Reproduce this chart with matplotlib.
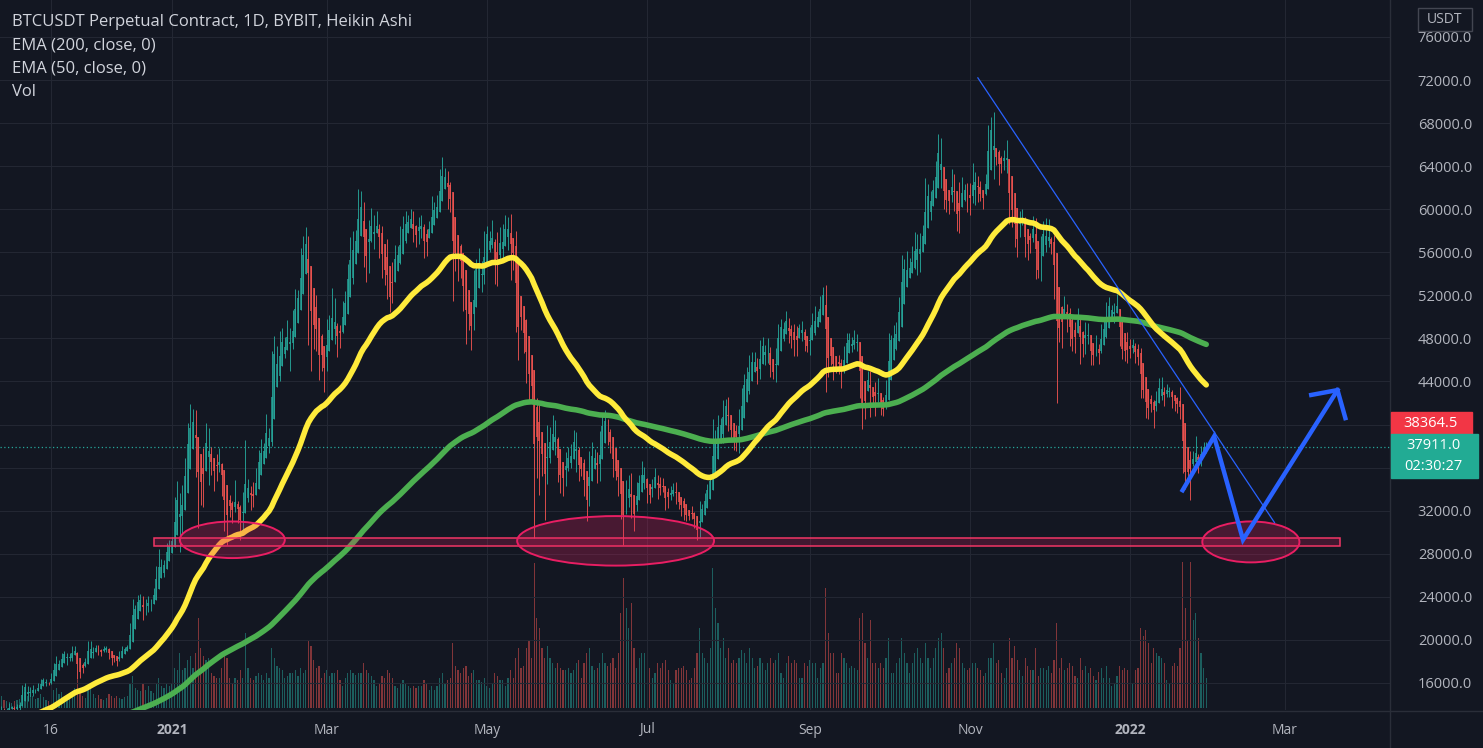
import numpy as np
import pandas as pd
import matplotlib.pyplot as plt
from matplotlib.patches import Ellipse, Rectangle
from matplotlib.lines import Line2D

# daily candles from 2020-10-27, prices in thousand USDT, one row per month
start_date = "2020-10-27"
first_open = 13.03

close = [
    13.64, 13.27, 13.46, 13.56, 13.80,
    13.76, 13.55, 14.02, 14.15, 15.59, 15.58, 14.83, 15.48, 15.33, 15.30, 15.70, 16.28, 16.32, 16.07, 15.96, 16.73, 17.65, 17.80, 17.82, 18.66, 18.70, 18.42, 18.37, 19.16, 18.74, 17.15, 17.14, 17.72, 18.18, 19.70,
    18.79, 19.21, 19.45, 18.70, 19.15, 19.36, 19.17, 18.32, 18.55, 18.26, 18.04, 18.80, 19.14, 19.25, 19.44, 21.37, 22.80, 23.12, 23.86, 23.48, 22.75, 23.83, 23.24, 23.73, 24.71, 26.44, 26.28, 27.08, 27.39, 28.87, 28.95,
    29.41, 32.20, 33.00, 31.99, 33.95, 36.77, 39.43, 40.67, 40.24, 38.24, 35.54, 34.01, 37.39, 39.14, 36.77, 36.18, 35.79, 36.63, 35.89, 35.47, 30.85, 32.95, 32.08, 32.26, 32.25, 32.47, 30.37, 33.37, 34.25, 34.26, 33.11,
    33.52, 35.48, 37.62, 36.94, 38.29, 39.26, 38.87, 46.45, 46.50, 44.84, 48.00, 47.41, 47.23, 48.59, 47.91, 49.13, 52.12, 51.55, 55.89, 55.84, 57.41, 54.09, 48.89, 49.68, 47.07, 46.28, 46.11, 45.14,
    49.59, 48.44, 50.35, 48.37, 48.75, 48.88, 50.97, 52.38, 54.88, 55.86, 57.80, 57.22, 61.19, 58.97, 55.60, 56.90, 58.91, 57.65, 58.03, 58.10, 57.35, 54.08, 54.34, 52.30, 51.30, 55.03, 55.85, 55.78, 57.63, 58.75, 58.92,
    58.74, 58.98, 57.06, 58.20, 59.13, 57.99, 56.00, 58.09, 58.09, 59.77, 60.20, 59.87, 63.58, 62.96, 63.22, 61.40, 60.01, 56.15, 55.72, 56.47, 53.81, 51.70, 51.15, 50.05, 49.00, 54.02, 55.03, 54.85, 53.56, 57.69,
    57.80, 56.58, 57.15, 53.24, 57.47, 56.43, 57.38, 58.93, 58.28, 55.86, 56.70, 49.15, 49.72, 49.88, 46.76, 46.45, 43.54, 42.91, 37.00, 40.78, 37.30, 37.54, 34.77, 38.87, 38.40, 39.29, 38.53, 35.66, 34.66, 35.68, 37.34,
    36.69, 37.57, 39.19, 36.87, 35.52, 35.80, 33.57, 33.37, 37.39, 36.68, 37.33, 35.55, 39.10, 40.52, 40.14, 38.35, 38.09, 35.82, 35.48, 35.60, 31.68, 32.51, 33.68, 34.66, 31.59, 32.23, 34.70, 34.49, 35.91, 35.04,
    33.57, 33.80, 34.69, 35.29, 33.69, 34.23, 33.86, 32.88, 33.81, 33.52, 34.26, 33.09, 32.73, 32.82, 31.87, 31.38, 31.52, 31.78, 30.84, 29.79, 32.13, 32.29, 33.58, 34.28, 35.43, 37.26, 39.46, 40.00, 40.03, 42.21, 41.46,
    39.85, 39.15, 38.21, 39.75, 40.87, 42.84, 44.61, 43.82, 46.29, 45.59, 45.56, 44.40, 47.83, 47.10, 47.02, 45.94, 44.69, 44.71, 46.76, 49.34, 48.87, 49.29, 49.55, 47.73, 48.95, 46.86, 49.09, 48.91, 48.81, 46.99, 47.13,
    48.82, 49.25, 49.94, 49.92, 51.76, 52.66, 46.86, 46.05, 46.40, 44.85, 45.17, 46.03, 44.96, 47.11, 48.12, 47.74, 47.30, 48.31, 47.26, 42.99, 40.72, 43.57, 44.90, 42.84, 42.72, 43.21, 42.17, 41.03, 41.52, 43.82,
    48.14, 47.63, 48.20, 49.22, 51.47, 55.32, 53.79, 53.95, 54.95, 54.66, 57.47, 56.01, 57.37, 57.35, 61.67, 60.88, 61.53, 62.01, 64.28, 66.00, 62.19, 60.69, 61.29, 60.86, 63.08, 60.33, 58.45, 60.59, 62.27, 61.86, 61.32,
    61.00, 63.23, 62.94, 61.45, 61.01, 61.53, 63.27, 67.53, 66.94, 64.88, 64.81, 64.15, 64.40, 65.50, 63.61, 60.06, 60.37, 56.89, 58.05, 59.71, 58.62, 56.27, 57.57, 57.19, 58.96, 53.73, 54.72, 57.27, 57.81, 56.95,
    57.18, 56.50, 53.60, 49.15, 49.40, 50.54, 50.62, 50.50, 47.67, 47.14, 49.39, 50.10, 46.70, 48.36, 48.86, 47.63, 46.13, 46.83, 46.68, 46.91, 48.94, 48.63, 50.82, 50.85, 50.43, 50.80, 50.70, 47.54, 46.46, 47.12, 46.22,
    47.72, 47.29, 46.43, 45.83, 43.43, 43.08, 41.55, 41.67, 41.86, 41.82, 42.74, 43.92, 42.59, 43.10, 43.18, 43.11, 42.25, 42.38, 41.67, 40.68, 36.45, 35.05, 36.28, 36.65, 36.95, 36.81, 37.16, 37.71, 38.15, 37.91,
]

high = [
    13.79, 13.86, 13.64, 13.67, 14.10,
    13.90, 13.82, 14.07, 14.24, 15.77, 15.97, 15.76, 15.66, 15.84, 15.48, 15.97, 16.34, 16.48, 16.33, 16.12, 16.88, 17.86, 18.48, 18.15, 18.82, 18.97, 18.75, 18.77, 19.42, 19.48, 18.92, 17.46, 17.90, 18.35, 19.86,
    19.92, 19.35, 19.57, 19.51, 19.18, 19.42, 19.42, 19.29, 18.64, 18.57, 18.27, 18.95, 19.41, 19.35, 19.57, 21.56, 23.80, 23.28, 24.17, 24.30, 24.10, 23.83, 24.10, 23.79, 24.79, 26.87, 28.42, 27.50, 27.41, 28.99, 29.30,
    29.60, 33.30, 34.78, 33.60, 34.36, 36.94, 40.18, 41.95, 41.40, 41.38, 38.26, 36.63, 37.85, 40.10, 39.70, 37.95, 36.85, 37.30, 37.85, 36.40, 35.60, 33.82, 33.47, 32.94, 34.88, 32.92, 32.55, 33.78, 38.53, 34.93, 34.29,
    34.71, 35.98, 37.66, 38.65, 38.30, 40.96, 39.69, 46.79, 48.20, 47.31, 48.68, 48.98, 48.13, 49.71, 49.00, 50.60, 52.62, 52.53, 56.37, 57.49, 58.35, 57.50, 54.20, 51.37, 52.04, 48.43, 48.39, 46.70,
    49.79, 50.20, 52.64, 51.77, 49.45, 49.20, 51.45, 52.40, 54.90, 57.39, 58.00, 58.06, 61.84, 61.70, 60.63, 56.94, 58.96, 60.07, 59.47, 59.88, 58.60, 58.40, 55.84, 57.20, 53.25, 55.08, 56.64, 56.56, 58.40, 59.37, 59.80,
    59.49, 60.04, 59.79, 58.50, 59.25, 59.45, 58.65, 58.15, 58.88, 61.22, 60.69, 61.30, 63.70, 64.85, 63.80, 63.52, 62.57, 60.40, 57.53, 57.00, 56.74, 55.47, 52.12, 51.20, 50.50, 54.36, 55.40, 56.43, 55.20, 57.96,
    58.45, 57.94, 58.97, 57.20, 57.91, 58.36, 58.65, 59.46, 59.30, 59.60, 56.90, 58.00, 51.30, 51.50, 50.70, 49.80, 46.64, 45.80, 43.55, 42.45, 42.20, 38.85, 38.27, 39.92, 39.80, 40.90, 40.42, 38.80, 37.34, 36.49, 37.49,
    37.90, 38.23, 39.48, 39.29, 37.92, 36.79, 36.80, 34.07, 37.53, 38.40, 37.69, 37.44, 39.38, 41.00, 41.33, 40.53, 39.56, 38.20, 36.46, 36.14, 35.74, 33.30, 34.88, 35.30, 35.50, 32.70, 34.70, 35.30, 36.60, 36.10,
    35.06, 33.94, 34.92, 35.96, 35.30, 35.10, 35.06, 33.91, 34.10, 34.26, 34.59, 34.65, 33.34, 33.10, 33.20, 32.27, 31.95, 32.42, 31.90, 31.04, 32.86, 32.58, 33.65, 34.50, 35.45, 40.55, 39.54, 40.90, 40.65, 42.30, 42.40,
    42.60, 40.45, 39.78, 39.97, 41.40, 43.39, 44.70, 45.31, 46.45, 46.70, 46.74, 46.20, 47.89, 48.14, 47.40, 48.05, 47.16, 46.00, 47.08, 49.38, 49.82, 49.50, 50.50, 49.88, 49.28, 49.38, 49.19, 49.31, 49.65, 48.90, 48.25,
    49.10, 50.40, 51.00, 50.55, 51.90, 52.80, 52.92, 47.40, 47.35, 47.00, 45.98, 46.46, 46.08, 47.25, 48.47, 48.50, 48.16, 48.80, 48.37, 47.33, 43.62, 44.00, 44.98, 45.00, 42.95, 43.95, 44.35, 42.75, 42.60, 44.10,
    48.50, 48.36, 49.23, 49.50, 51.89, 55.75, 55.33, 56.10, 55.45, 56.56, 57.84, 57.68, 57.77, 58.53, 62.93, 62.38, 61.72, 62.70, 64.48, 67.00, 66.64, 63.73, 61.75, 61.49, 63.71, 63.29, 61.50, 62.50, 62.98, 62.36, 62.41,
    62.44, 64.27, 63.50, 63.12, 62.59, 61.58, 63.29, 67.79, 68.53, 69.00, 65.60, 65.50, 64.97, 65.50, 66.40, 63.62, 60.80, 60.95, 58.35, 59.85, 60.03, 59.30, 57.88, 57.82, 59.40, 59.20, 55.30, 57.50, 58.90, 59.20,
    59.05, 57.40, 57.60, 53.90, 49.70, 51.00, 51.90, 51.20, 50.80, 50.10, 49.50, 50.80, 50.20, 48.70, 49.50, 49.45, 48.00, 47.30, 48.30, 47.50, 49.30, 49.60, 51.38, 51.86, 51.15, 51.27, 52.10, 50.70, 48.12, 47.90, 48.55,
    47.95, 47.99, 47.57, 47.50, 47.07, 43.75, 43.15, 42.30, 42.79, 42.25, 43.10, 44.35, 44.45, 43.45, 43.80, 43.48, 43.20, 42.70, 42.60, 43.50, 41.10, 36.84, 36.50, 37.55, 37.55, 38.92, 37.23, 38.00, 38.36, 38.40,
]

low = [
    13.02, 12.89, 12.98, 13.12, 13.42,
    13.62, 13.20, 13.29, 13.53, 14.09, 15.21, 14.34, 14.70, 14.80, 15.07, 15.28, 15.43, 15.96, 15.71, 15.80, 15.87, 16.56, 17.21, 17.35, 17.76, 18.44, 17.69, 18.00, 18.06, 18.56, 16.33, 16.44, 16.88, 17.52, 18.18,
    18.32, 18.33, 18.93, 18.56, 18.51, 18.86, 18.91, 18.20, 17.65, 17.91, 17.57, 18.02, 18.70, 19.00, 19.05, 19.29, 21.23, 22.35, 22.75, 23.06, 21.82, 22.35, 22.60, 22.70, 23.43, 24.50, 25.82, 26.10, 25.88, 27.32, 27.85,
    28.62, 29.00, 32.00, 28.13, 29.90, 33.30, 36.30, 36.50, 38.72, 35.11, 30.42, 32.53, 32.38, 36.70, 34.41, 35.36, 33.85, 34.77, 35.60, 33.40, 30.07, 28.85, 31.39, 30.84, 31.91, 30.84, 29.24, 29.81, 31.92, 32.82, 32.06,
    32.30, 33.42, 35.36, 36.16, 36.57, 38.21, 37.35, 38.02, 45.02, 43.73, 44.03, 46.25, 46.20, 47.05, 45.00, 47.00, 48.96, 50.90, 50.70, 53.88, 55.48, 47.40, 45.00, 47.00, 46.82, 44.10, 45.00, 43.00,
    45.00, 47.04, 48.10, 47.50, 46.30, 47.07, 48.54, 49.27, 51.80, 53.00, 53.02, 55.03, 56.08, 58.96, 54.60, 53.27, 54.12, 57.00, 56.27, 57.82, 55.45, 53.65, 53.00, 51.70, 50.43, 51.32, 53.96, 54.68, 54.90, 57.00, 56.87,
    57.94, 58.45, 56.96, 56.50, 56.81, 57.35, 55.47, 55.70, 57.68, 57.90, 59.00, 59.42, 59.80, 61.00, 62.03, 60.00, 59.70, 51.50, 54.22, 53.35, 53.62, 50.58, 47.50, 48.75, 46.93, 48.80, 53.32, 53.89, 52.33, 53.08,
    57.00, 56.04, 56.44, 53.05, 52.90, 55.20, 55.27, 56.90, 56.25, 53.40, 54.40, 48.60, 46.00, 48.80, 46.60, 43.83, 42.00, 42.25, 29.50, 35.00, 33.50, 35.20, 31.11, 34.50, 36.40, 37.80, 37.19, 34.68, 33.63, 33.38, 34.25,
    35.70, 35.92, 37.17, 35.57, 34.80, 35.26, 33.40, 31.00, 32.40, 35.78, 35.94, 34.60, 34.77, 38.73, 39.51, 38.12, 37.37, 35.13, 34.82, 33.35, 31.25, 28.80, 31.68, 32.30, 31.28, 30.15, 31.97, 33.86, 34.24, 34.05,
    32.71, 32.70, 33.31, 34.50, 33.13, 33.50, 33.77, 32.08, 32.26, 33.00, 33.32, 32.66, 32.20, 31.55, 31.13, 31.02, 31.16, 31.22, 30.41, 29.28, 29.48, 31.70, 32.00, 33.40, 33.90, 35.21, 36.40, 38.77, 39.28, 38.32, 41.00,
    39.42, 38.69, 37.64, 37.51, 37.33, 39.86, 42.45, 43.00, 42.80, 44.65, 45.35, 43.77, 44.25, 45.97, 45.50, 45.70, 44.38, 44.20, 43.95, 46.64, 48.30, 47.80, 49.03, 47.60, 47.12, 46.37, 46.38, 48.38, 47.78, 46.86, 46.70,
    46.50, 48.60, 48.35, 49.50, 49.50, 50.98, 43.00, 44.40, 45.50, 44.14, 44.75, 44.74, 43.37, 44.75, 46.70, 47.04, 46.77, 47.05, 46.85, 42.50, 39.60, 40.55, 43.10, 40.70, 41.70, 40.77, 42.10, 40.90, 40.75, 41.40,
    43.30, 47.43, 47.12, 46.90, 49.06, 50.38, 53.36, 53.65, 53.68, 54.12, 54.42, 53.88, 54.16, 56.82, 56.85, 60.15, 58.96, 60.75, 61.32, 63.48, 62.00, 60.00, 59.70, 59.52, 60.65, 59.82, 58.00, 57.82, 60.17, 60.72, 59.71,
    59.50, 60.62, 60.38, 60.68, 60.73, 60.00, 61.32, 63.10, 66.33, 62.82, 64.10, 62.27, 63.40, 63.60, 63.40, 58.58, 58.37, 56.47, 55.60, 57.40, 58.50, 55.60, 55.30, 55.90, 57.00, 53.50, 53.60, 53.30, 56.70, 56.00,
    56.50, 55.84, 51.68, 42.00, 47.70, 47.10, 50.04, 48.60, 47.32, 46.85, 46.60, 48.60, 45.67, 46.30, 46.55, 47.51, 45.50, 45.55, 46.40, 45.58, 46.63, 48.42, 48.05, 50.40, 50.17, 49.42, 50.45, 47.31, 46.10, 45.90, 45.68,
    46.20, 46.65, 45.70, 45.50, 42.50, 42.43, 40.61, 40.50, 41.20, 39.65, 41.27, 42.45, 42.31, 41.72, 42.58, 42.59, 41.54, 41.25, 41.10, 40.55, 35.50, 34.00, 34.60, 32.95, 36.18, 36.70, 35.50, 36.15, 37.30, 37.35,
]

# daily volume (k BTC)
volume = [
    8, 12, 8, 7, 6,
    5, 7, 8, 9, 18, 16, 12, 10, 12, 9, 10, 14, 11, 8, 7, 12, 18, 20, 14, 16, 10, 12, 11, 17, 20, 28, 18, 12, 10, 20,
    22, 14, 10, 13, 9, 8, 10, 14, 12, 10, 12, 10, 9, 11, 12, 25, 32, 20, 18, 17, 24, 18, 22, 17, 15, 24, 30, 22, 20, 24, 22,
    24, 40, 38, 55, 38, 40, 48, 52, 40, 55, 90, 60, 52, 48, 50, 35, 32, 30, 30, 40, 55, 50, 30, 25, 30, 28, 38, 30, 75, 40, 30,
    28, 32, 35, 33, 28, 35, 30, 60, 50, 42, 40, 38, 30, 32, 35, 35, 38, 32, 40, 35, 38, 68, 62, 48, 40, 42, 30, 35,
    38, 32, 35, 35, 38, 28, 22, 30, 35, 38, 35, 33, 35, 35, 45, 38, 35, 32, 28, 22, 25, 32, 30, 38, 35, 30, 22, 20, 25, 28, 25,
    22, 20, 22, 20, 22, 22, 28, 24, 18, 22, 18, 22, 30, 35, 25, 28, 30, 65, 42, 38, 35, 40, 42, 32, 35, 38, 28, 28, 26, 30,
    22, 20, 25, 35, 32, 28, 28, 22, 30, 38, 30, 50, 60, 40, 42, 60, 68, 50, 145, 90, 80, 60, 50, 62, 50, 45, 40, 45, 40, 38, 38,
    40, 35, 38, 45, 48, 30, 45, 55, 60, 42, 38, 40, 45, 55, 45, 42, 45, 50, 40, 55, 95, 130, 100, 80, 105, 60, 40, 50, 55, 55,
    50, 40, 30, 35, 45, 40, 45, 48, 38, 28, 25, 38, 40, 40, 42, 38, 28, 30, 40, 55, 80, 55, 50, 45, 60, 140, 100, 85, 60, 70, 50,
    60, 45, 48, 45, 50, 58, 55, 45, 60, 50, 40, 42, 50, 45, 38, 45, 50, 45, 48, 55, 35, 30, 45, 52, 45, 48, 45, 30, 30, 45, 42,
    48, 45, 45, 30, 40, 45, 120, 75, 55, 55, 35, 35, 55, 50, 45, 40, 42, 40, 38, 90, 95, 65, 50, 88, 45, 45, 40, 45, 40, 50,
    70, 35, 35, 45, 50, 70, 55, 45, 35, 45, 55, 60, 50, 45, 65, 50, 40, 50, 60, 70, 75, 60, 35, 40, 45, 50, 65, 60, 45, 40, 38,
    40, 45, 45, 40, 38, 32, 35, 50, 50, 65, 45, 48, 35, 30, 40, 70, 50, 62, 48, 38, 32, 50, 42, 38, 38, 60, 32, 40, 40, 38,
    42, 35, 48, 85, 40, 50, 38, 40, 45, 42, 32, 30, 50, 38, 42, 35, 40, 32, 28, 36, 40, 30, 42, 30, 22, 25, 32, 42, 38, 40, 38,
    28, 25, 38, 40, 80, 72, 78, 65, 45, 60, 55, 52, 50, 45, 28, 25, 42, 45, 42, 60, 146, 100, 68, 146, 88, 95, 70, 55, 40, 30,
]

# EMA values on the day before the first candle
ema50_seed = 12.0
ema200_seed = 10.5

last_price = 37911.0
real_price = 38364.5

tick_dates = ["2020-11-16", "2021-01-01", "2021-03-01", "2021-05-01", "2021-07-01",
              "2021-09-01", "2021-11-01", "2022-01-01", "2022-03-01"]
tick_labels = ["16", "2021", "Mar", "May", "Jul", "Sep", "Nov", "2022", "Mar"]
price_ticks = list(range(16000, 76001, 4000))
hidden_ticks = [36000, 40000]   # covered by the price badges

W, H = 1483, 748
BG = "#131722"
GRID = "#232733"
TEXT = "#b2b5be"
TEAL = "#26a69a"
RED = "#ef5350"
PINK = "#e91e63"
BLUE = "#2962ff"

plt.rcParams['font.family'] = ['Open Sans', 'DejaVu Sans']

base = pd.Timestamp("2021-01-01")
def day(s):
    return (pd.Timestamp(s) - base).days

n = len(close)
days = (pd.date_range(start_date, periods=n) - base).days.values.astype(float)
c = np.array(close) * 1000
h = np.array(high) * 1000
l = np.array(low) * 1000
o = np.concatenate([[first_open * 1000], c[:-1]])

# heikin ashi
ha_c = (o + h + l + c) / 4
ha_o = np.zeros(n)
ha_o[0] = (o[0] + c[0]) / 2
for i in range(1, n):
    ha_o[i] = (ha_o[i-1] + ha_c[i-1]) / 2
ha_h = np.maximum(h, np.maximum(ha_o, ha_c))
ha_l = np.minimum(l, np.minimum(ha_o, ha_c))
up = ha_c >= ha_o

def ema(vals, span, seed):
    a = 2.0 / (span + 1)
    out = np.zeros(len(vals))
    prev = seed
    for i, v in enumerate(vals):
        prev = a * v + (1 - a) * prev
        out[i] = prev
    return out

ema50 = ema(ha_c, 50, ema50_seed * 1000)
ema200 = ema(ha_c, 200, ema200_seed * 1000)

fig = plt.figure(figsize=(W / 100, H / 100), dpi=100, facecolor=BG)
rect = [0, 1 - 710 / H, 1390 / W, 710 / H]
vax = fig.add_axes(rect)
vax.set_facecolor(BG)
ax = fig.add_axes(rect, sharex=vax)
ax.set_facecolor("none")

# volume
vcol = np.where(up, TEAL, RED)
vax.bar(days, volume, width=0.45, color=vcol, alpha=0.5, linewidth=0)
vax.set_ylim(-2, 708)
vax.axis("off")

ax.set_xlim(-65.5, 464.0)
ax.set_ylim(13490, 79430)

tick_pos = [day(t) for t in tick_dates]
ax.set_xticks(tick_pos)
ax.set_xticklabels(tick_labels)
for lab in ax.get_xticklabels():
    if lab.get_text().startswith("20"):
        lab.set_fontweight("bold")
ax.yaxis.tick_right()
ax.set_yticks(price_ticks)
ax.set_yticklabels(["" if v in hidden_ticks else f"{v:.1f}" for v in price_ticks])
ax.tick_params(axis="x", length=0, pad=9, labelsize=10, labelcolor=TEXT)
ax.tick_params(axis="y", length=0, pad=20, labelsize=10.5, labelcolor=TEXT)
ax.grid(True, color=GRID, lw=0.8)
ax.set_axisbelow(True)
for s in ax.spines.values():
    s.set_visible(False)

ax.axhline(last_price, color=TEAL, lw=0.9, ls=(0, (1, 2)), zorder=2)

# candles
ccol = np.where(up, TEAL, RED)
ax.vlines(days, ha_l, ha_h, colors=ccol, lw=0.7, alpha=0.9, zorder=3)
ax.vlines(days, np.minimum(ha_o, ha_c), np.maximum(ha_o, ha_c), colors=ccol, lw=1.2, alpha=0.9, zorder=3)

ax.plot(days, ema200, color="#4caf50", lw=4, solid_capstyle="round", zorder=4)
ax.plot(days, ema50, color="#ffeb3b", lw=4, solid_capstyle="round", zorder=5)

# support zone drawings
ax.add_patch(Rectangle((day("2020-12-25"), 28720), day("2022-03-22") - day("2020-12-25"), 750,
                       fc=(0.91, 0.12, 0.39, 0.22), ec="#f23665", lw=1.1, zorder=6))
for cd, cp, w, hh in [("2021-01-24", 29300, 40, 3400), ("2021-06-19", 29200, 75, 4600),
                      ("2022-02-16", 29100, 37, 3800)]:
    ax.add_patch(Ellipse((day(cd), cp), w, hh, fc=(0.91, 0.12, 0.39, 0.25), ec=PINK, lw=1.4, zorder=6))

ax.plot([day("2021-11-04"), day("2022-02-25")], [72200, 30900], color=BLUE, lw=0.9, zorder=7)
zx = [day("2022-01-21"), day("2022-02-02"), day("2022-02-13"), day("2022-03-21")]
zy = [33900, 38900, 29300, 43200]
ax.plot(zx, zy, color=BLUE, lw=3.2, solid_joinstyle="miter", zorder=8)
ax.plot([day("2022-03-11"), day("2022-03-21"), day("2022-03-24")], [42750, 43200, 40600],
        color=BLUE, lw=3.2, solid_joinstyle="miter", zorder=8)

# borders of price and time scales
fig.add_artist(Line2D([1390 / W] * 2, [0, 1], color="#2a2e39", lw=1))
fig.add_artist(Line2D([0, 1], [1 - 711 / H] * 2, color="#2a2e39", lw=1))

def fx(x):
    return x / W

def fy(y):
    return 1 - y / H

def badge(x0, y0, x1, y1, fc, ec=None):
    fig.add_artist(Rectangle((fx(x0), fy(y1)), (x1 - x0) / W, (y1 - y0) / H,
                             transform=fig.transFigure, fc=fc, ec=ec or fc, lw=1, zorder=10))

badge(1391, 412, 1472, 434, "#f23645")
fig.text(fx(1431), fy(423), f"{real_price:.1f}", color="white", fontsize=10.5, ha="center", va="center", zorder=11)
badge(1391, 434, 1478, 478, "#22ab94")
fig.text(fx(1433), fy(445), f"{last_price:.1f}", color="white", fontsize=10.5, ha="center", va="center", zorder=11)
fig.text(fx(1433), fy(466), "02:30:27", color="white", fontsize=10.5, ha="center", va="center", zorder=11)
badge(1418, 8, 1472, 31, BG, "#434651")
fig.text(fx(1445), fy(19.5), "USDT", color=TEXT, fontsize=10, ha="center", va="center", zorder=11)

legend = ["BTCUSDT Perpetual Contract, 1D, BYBIT, Heikin Ashi", "EMA (200, close, 0)",
          "EMA (50, close, 0)", "Vol"]
for i, s in enumerate(legend):
    fig.text(fx(12), fy(22 + 23.3 * i), s, color="#d1d4dc", fontsize=12, ha="left", va="center")

fig.savefig("out.png", dpi=100, facecolor=BG)
